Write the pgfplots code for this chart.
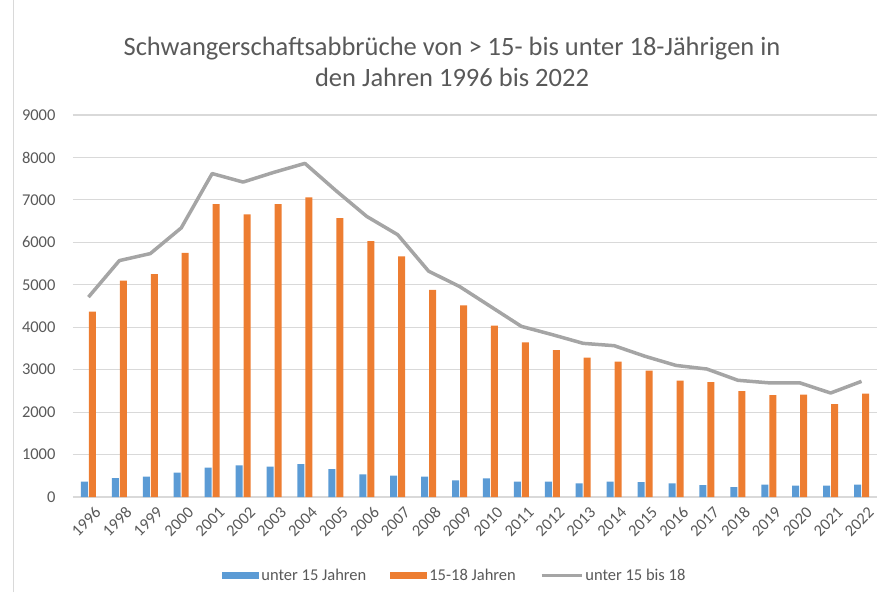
\documentclass[border=0pt]{standalone}
\usepackage{pgfplots}
\pgfplotsset{compat=1.18}
\usepackage{fontspec}
\setmainfont{Carlito}
\definecolor{xlBlue}{HTML}{5B9BD5}
\definecolor{xlOrange}{HTML}{ED7D31}
\definecolor{xlGray}{HTML}{A5A5A5}
\definecolor{txtGray}{HTML}{595959}
\definecolor{gridGray}{HTML}{D9D9D9}

% x: category index (1997 fehlt in der Quelle)
\pgfplotstableread{
x  unter15 j1518 summe
0  360  4370 4710
1  447  5100 5570
2  478  5250 5735
3  572  5750 6340
4  690  6900 7620
5  745  6660 7420
6  714  6900 7650
7  777  7060 7860
8  659  6570 7220
9  533  6030 6610
10 502  5670 6180
11 478  4880 5320
12 391  4515 4960
13 438  4036 4490
14 360  3643 4020
15 360  3463 3825
16 321  3282 3620
17 360  3188 3565
18 353  2976 3315
19 321  2740 3100
20 282  2709 3015
21 235  2497 2750
22 290  2403 2690
23 266  2410 2690
24 266  2191 2450
25 290  2434 2725
}\abbrueche

\begin{document}
\begin{tikzpicture}[x=1pt,y=1pt]
\path[use as bounding box] (0,0) rectangle (883,592);
\draw[gridGray, line width=1pt] (13,0) -- (13,592);
\node[txtGray, font=\fontsize{26.5}{31}\selectfont, align=center] at (452,530)
  {Schwangerschaftsabbrüche von > 15- bis unter 18-Jährigen in\\den Jahren 1996 bis 2022};
\begin{axis}[
    at={(73pt,95pt)}, anchor=south west,
    scale only axis,
    width=804pt, height=382pt,
    xmin=-0.5, xmax=25.5,
    ymin=0, ymax=9000,
    ytick={0,1000,...,9000},
    xtick=data,
    xticklabels={1996,1998,1999,2000,2001,2002,2003,2004,2005,2006,2007,2008,2009,2010,2011,2012,2013,2014,2015,2016,2017,2018,2019,2020,2021,2022},
    major tick length=0pt,
    axis line style={draw=none},
    ymajorgrids,
    grid style={gridGray, line width=1.2pt},
    /pgf/number format/1000 sep={},
    /pgf/number format/assume math mode=true,
    tick label style={txtGray, font=\fontsize{16.5}{18}\selectfont},
    yticklabel style={xshift=-14pt},
    xticklabel style={rotate=45, anchor=east, yshift=-16pt, xshift=1pt},
    legend columns=3,
    legend style={draw=none, at={(0.475,-0.205)}, anchor=center,
      font=\fontsize{16.5}{18}\selectfont, text=txtGray,
      /tikz/every even column/.append style={column sep=22pt}},
]
\addplot[ybar, bar width=7pt, bar shift=-4pt, fill=xlBlue, draw=none,
  legend image code/.code={\fill[xlBlue] (0pt,-3.5pt) rectangle (37pt,3.5pt);}]
  table[x=x, y=unter15] {\abbrueche};
\addlegendentry{unter 15 Jahren}
\addplot[ybar, bar width=7pt, bar shift=4pt, fill=xlOrange, draw=none,
  legend image code/.code={\fill[xlOrange] (0pt,-3.5pt) rectangle (37pt,3.5pt);}]
  table[x=x, y=j1518] {\abbrueche};
\addlegendentry{15-18 Jahren}
\addplot[sharp plot, no marks, xlGray, line width=3.5pt, line join=round,
  legend image code/.code={\draw[xlGray, line width=3.5pt] (0pt,0pt) -- (40pt,0pt);}]
  table[x=x, y=summe] {\abbrueche};
\addlegendentry{unter 15 bis 18}
\end{axis}
\end{tikzpicture}
\end{document}
